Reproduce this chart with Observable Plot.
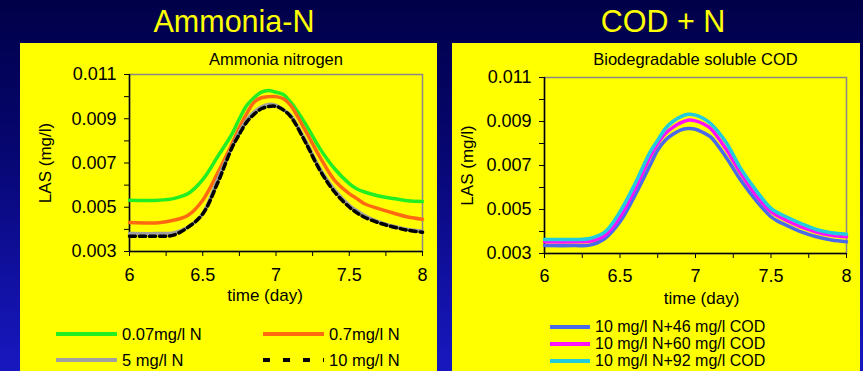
<!DOCTYPE html>
<html>
<head>
<meta charset="utf-8">
<script src="https://cdn.jsdelivr.net/npm/d3@7"></script>
<script src="https://cdn.jsdelivr.net/npm/@observablehq/plot@0.6"></script>
<style>
  html, body { margin: 0; padding: 0; }
  body { width: 863px; height: 371px; overflow: hidden; font-family: "Liberation Sans", Arial, sans-serif; }
  #page { position: relative; width: 863px; height: 371px;
    background: linear-gradient(to bottom, #000048 0%, #060670 40%, #1212a8 80%, #1818c0 100%); }
  .main-title { position: absolute; top: 3px; color: #ffff00; font-size: 30.5px; text-align: center; width: 300px; line-height: 36px; }
  .panel { position: absolute; top: 43px; height: 328px; background: #ffff00; }
  .panel svg { position: absolute; left: 0; top: 0; overflow: visible; }
  .leg { position: absolute; font-size: 16.5px; color: #000; line-height: 18px; white-space: nowrap; }
  .leg svg { position: static; vertical-align: middle; }
</style>
</head>
<body>
<div id="page">
  <div class="main-title" style="left:84px">Ammonia-N</div>
  <div class="main-title" style="left:513px">COD + N</div>
  <div class="panel" id="left" style="left:20px; width:417px;"></div>
  <div class="panel" id="right" style="left:452px; width:408px;"></div>
</div>
<script>
// ---- data ----
const time = [6.0, 6.2, 6.3, 6.4, 6.5, 6.6, 6.7, 6.75, 6.8, 6.85, 6.9, 6.95, 7.0, 7.05, 7.1, 7.2, 7.3, 7.4, 7.5, 7.55, 7.6, 7.7, 7.8, 7.9, 8.0];

const n007 = [0.00532, 0.00532, 0.00539, 0.00562, 0.00625, 0.00727, 0.00832, 0.0090, 0.0096, 0.00995, 0.0102, 0.01028, 0.0102, 0.0101, 0.00975, 0.00878, 0.00765, 0.00674, 0.00607, 0.00584, 0.0057, 0.00551, 0.0054, 0.00529, 0.00526];
const n07  = [0.00431, 0.0043, 0.00441, 0.00464, 0.00532, 0.00652, 0.00787, 0.0086, 0.00923, 0.00975, 0.00995, 0.01, 0.01, 0.0099, 0.0096, 0.00847, 0.00727, 0.00622, 0.00562, 0.0054, 0.00517, 0.00494, 0.00474, 0.00456, 0.00446];
const n5   = [0.00381, 0.00381, 0.00384, 0.00411, 0.00471, 0.00622, 0.00772, 0.0084, 0.00893, 0.0093, 0.00953, 0.00965, 0.0096, 0.0094, 0.00915, 0.00802, 0.00674, 0.00577, 0.00509, 0.00485, 0.00464, 0.00434, 0.00414, 0.00399, 0.00392];
const n10  = [0.00369, 0.00369, 0.00374, 0.0041, 0.0047, 0.00607, 0.0077, 0.0083, 0.00885, 0.0092, 0.00945, 0.00955, 0.00956, 0.0094, 0.0091, 0.00795, 0.00667, 0.00569, 0.00501, 0.00476, 0.00456, 0.0043, 0.00411, 0.00396, 0.00387];

const cod46 = [0.00336, 0.00336, 0.00338, 0.00368, 0.00444, 0.00565, 0.00702, 0.0077, 0.00815, 0.00842, 0.00861, 0.00868, 0.00865, 0.0085, 0.0083, 0.0074, 0.00633, 0.00542, 0.00467, 0.00445, 0.00429, 0.00398, 0.00376, 0.00361, 0.00353];
const cod60 = [0.00353, 0.00353, 0.00356, 0.00383, 0.00467, 0.00595, 0.0074, 0.008, 0.00845, 0.00873, 0.00894, 0.00906, 0.00903, 0.0089, 0.00868, 0.00777, 0.00664, 0.00565, 0.0049, 0.00468, 0.00452, 0.00421, 0.00398, 0.00383, 0.00376];
const cod92 = [0.00364, 0.00364, 0.00368, 0.00398, 0.0049, 0.00618, 0.00762, 0.00815, 0.00868, 0.009, 0.00921, 0.00933, 0.00929, 0.00915, 0.00891, 0.00808, 0.00686, 0.00588, 0.00505, 0.00484, 0.00467, 0.00436, 0.00409, 0.00394, 0.00388];

const yTicks = [0.003, 0.005, 0.007, 0.009, 0.011];
const yMinor = [0.004, 0.006, 0.008, 0.010];
const xTicks = [6, 6.5, 7, 7.5, 8];
const xMinor = [6.25, 6.75, 7.25, 7.75];

const leftSeries = [
  {name: "0.07mg/l N", values: n007, color: "#22ee22", dash: null},
  {name: "0.7mg/l N", values: n07, color: "#ff6a10", dash: null},
  {name: "5 mg/l N", values: n5, color: "#a0a0a0", dash: null},
  {name: "10 mg/l N", values: n10, color: "#000000", dash: "6,4"}
];
const rightSeries = [
  {name: "10 mg/l N+46 mg/l COD", values: cod46, color: "#4a6ae8", dash: null},
  {name: "10 mg/l N+60 mg/l COD", values: cod60, color: "#ff10ff", dash: null},
  {name: "10 mg/l N+92 mg/l COD", values: cod92, color: "#22ccdd", dash: null}
];

function rows(series) {
  return series.map(s => time.map((t, i) => ({t, v: s.values[i]})));
}

function makeChart(opts) {
  const {width, mL, mR, mT, mB, title, series, xlabDx, xlabDy, ylabDx, titleDy, xPad} = opts;
  const height = 265;
  const marks = [
    Plot.frame({stroke: "#888888", strokeWidth: 1.5}),
    Plot.ruleX([6], {stroke: "#000", strokeWidth: 1.5}),
    Plot.ruleY([0.003], {stroke: "#000", strokeWidth: 1.5}),
    Plot.axisY({ticks: yTicks, tickFormat: d => d.toFixed(3), tickSize: 5, tickPadding: 8, fontSize: 18, label: null}),
    Plot.axisY({ticks: yMinor, tickFormat: () => "", tickSize: 5, label: null}),
    Plot.axisX({ticks: xTicks, tickFormat: d => String(d), tickSize: 5, tickPadding: xPad, fontSize: 18, label: null}),
    Plot.axisX({ticks: xMinor, tickFormat: () => "", tickSize: 5, label: null}),
  ];
  const data = rows(series);
  series.forEach((s, i) => {
    marks.push(Plot.line(data[i], {x: "t", y: "v", stroke: s.color, strokeWidth: 3.5, strokeDasharray: s.dash, curve: "catmull-rom"}));
  });
  marks.push(
    Plot.text([title], {frameAnchor: "top", dy: titleDy, fontSize: 16.5, fill: "#000", lineAnchor: "middle"}),
    Plot.text(["time (day)"], {frameAnchor: "bottom", dy: xlabDy, dx: xlabDx, fontSize: 17, fill: "#000", lineAnchor: "middle"}),
    Plot.text(["LAS (mg/l)"], {frameAnchor: "left", dx: ylabDx, rotate: -90, fontSize: 17, fill: "#000", textAnchor: "middle", lineAnchor: "middle"})
  );
  return Plot.plot({
    width, height,
    marginLeft: mL, marginRight: mR, marginTop: mT, marginBottom: mB,
    style: {background: "transparent", fontFamily: "Liberation Sans, Arial, sans-serif", color: "#000", overflow: "visible"},
    x: {domain: [6, 8]},
    y: {domain: [0.003, 0.011]},
    marks
  });
}

function swatch(s, w) {
  const dash = s.dash ? ` stroke-dasharray="7,13"` : "";
  return `<svg width="${w}" height="6" style="margin-right:5px"><line x1="0" x2="${w}" y1="3" y2="3" stroke="${s.color}" stroke-width="4"${dash}/></svg>`;
}

const left = document.getElementById("left");
left.appendChild(makeChart({width: 417, mL: 109, mR: 15, mT: 31, mB: 57, title: "Ammonia nitrogen",
  series: leftSeries, xlabDx: -11, xlabDy: 44, ylabDx: -84, titleDy: -15, xPad: 12}));
const legPos = [[36, 289], [243, 289], [36, 315], [243, 315]];
leftSeries.forEach((s, i) => {
  const d = document.createElement("div");
  d.className = "leg";
  d.style.left = legPos[i][0] + "px";
  d.style.top = (legPos[i][1] - 9) + "px";
  d.innerHTML = swatch(s, 61) + `<span style="vertical-align:middle">${s.name}</span>`;
  left.appendChild(d);
});

const right = document.getElementById("right");
right.appendChild(makeChart({width: 408, mL: 92, mR: 14, mT: 34, mB: 55, title: "Biodegradable soluble COD",
  series: rightSeries, xlabDx: 6, xlabDy: 45, ylabDx: -77, titleDy: -18, xPad: 11}));
const rTops = [283, 300, 317];
rightSeries.forEach((s, i) => {
  const d = document.createElement("div");
  d.className = "leg";
  d.style.fontSize = "16px";
  d.style.left = "98px";
  d.style.top = (rTops[i] - 9) + "px";
  d.innerHTML = swatch(s, 40) + `<span style="vertical-align:middle">${s.name}</span>`;
  right.appendChild(d);
});
</script>
</body>
</html>
